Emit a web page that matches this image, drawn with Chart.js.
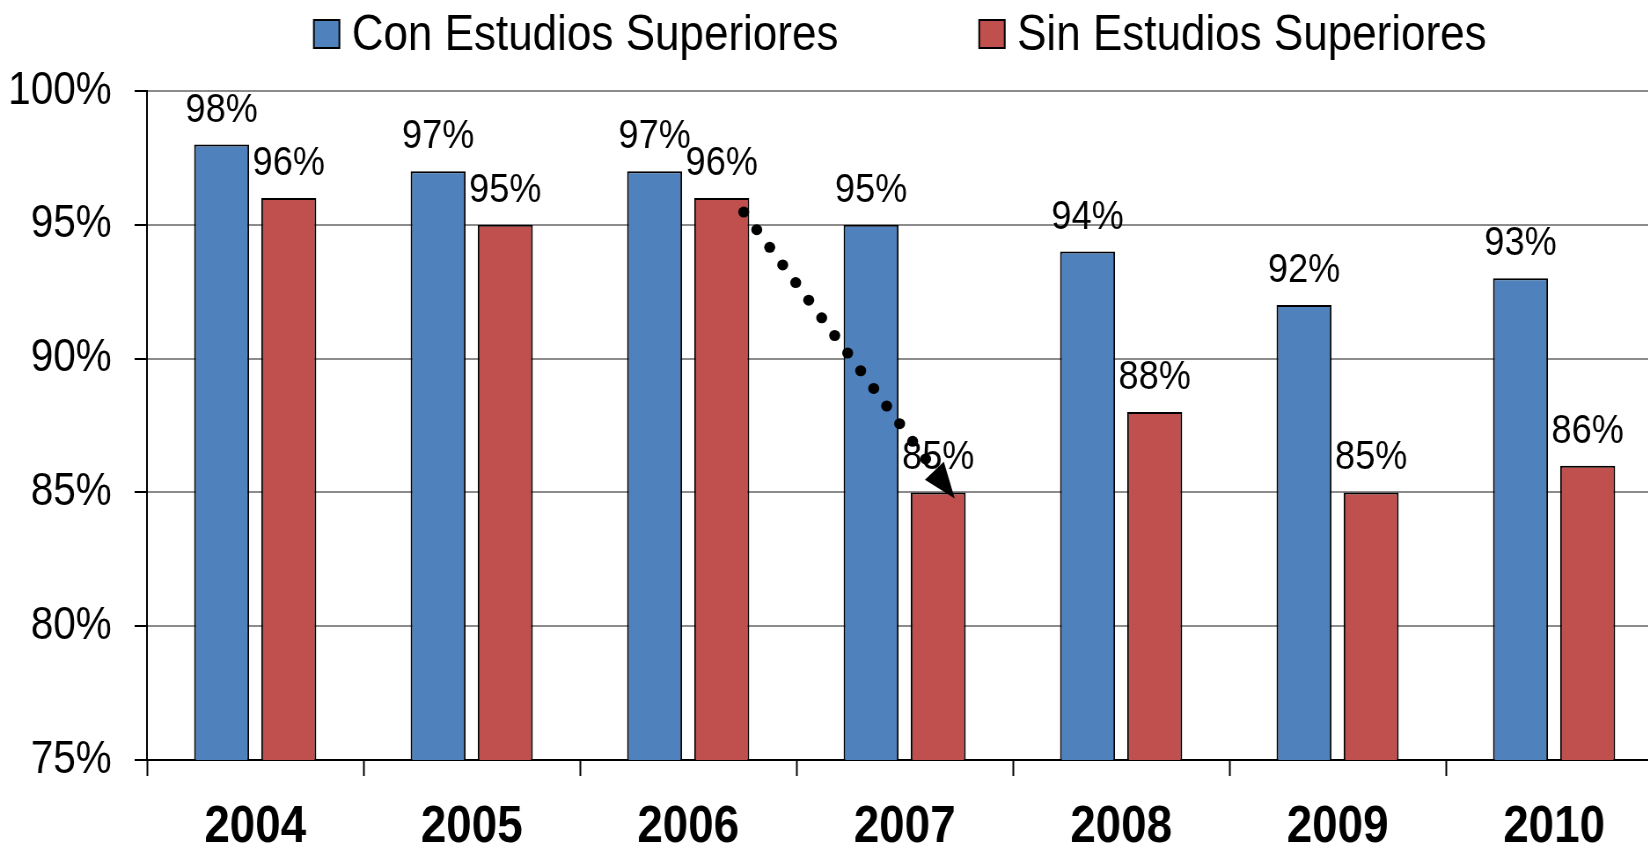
<!DOCTYPE html>
<html>
<head>
<meta charset="utf-8">
<script src="https://cdn.jsdelivr.net/npm/chart.js@4.4.1/dist/chart.umd.min.js"></script>
<style>
  html, body { margin: 0; padding: 0; background: #fff; overflow: hidden; }
  /* the original picture is squeezed horizontally, so we draw wide and squeeze */
  #wrap { width: 1890px; height: 847px; transform: scaleX(0.88); transform-origin: 0 0; }
</style>
</head>
<body>
<div id="wrap"><canvas id="myChart" width="1890" height="847"></canvas></div>
<script>
const years = ["2004", "2005", "2006", "2007", "2008", "2009", "2010"];
const conEstudios = [98, 97, 97, 95, 94, 92, 93];
const sinEstudios = [96, 95, 96, 85, 88, 85, 86];
const seriesNames = ["Con Estudios Superiores", "Sin Estudios Superiores"];
const seriesColors = ["#4F81BD", "#C0504D"];
const yTicks = [75, 80, 85, 90, 95, 100];

const FONT = "'Liberation Sans', Arial, sans-serif";

// value labels above each bar
const valueLabels = {
  id: "valueLabels",
  afterDatasetsDraw(chart) {
    const ctx = chart.ctx;
    ctx.save();
    ctx.font = "41px " + FONT;
    ctx.fillStyle = "#000";
    ctx.textAlign = "center";
    ctx.textBaseline = "alphabetic";
    chart.data.datasets.forEach((ds, i) => {
      chart.getDatasetMeta(i).data.forEach((bar, j) => {
        ctx.fillText(ds.data[j] + "%", bar.x, bar.y - 23);
      });
    });
    ctx.restore();
  }
};

// dotted arrow from 2006 to 2007 (Sin Estudios)
const dropArrow = {
  id: "dropArrow",
  afterDatasetsDraw(chart) {
    const bars = chart.getDatasetMeta(1).data;
    const a = bars[2], b = bars[3];
    const x0 = a.x + a.width * 0.4, y0 = a.y + 14;
    const x1 = b.x + b.width * 0.3, y1 = b.y + 6;
    const dx = x1 - x0, dy = y1 - y0;
    const len = Math.sqrt(dx * dx + dy * dy);
    const ux = dx / len, uy = dy / len;
    const ctx = chart.ctx;
    ctx.save();
    ctx.fillStyle = "#000";
    const headLen = 36;
    for (let d = 0; d <= len - headLen - 4; d += 23) {
      ctx.beginPath();
      ctx.ellipse(x0 + ux * d, y0 + uy * d, 5.5 / 0.88, 5.5, 0, 0, Math.PI * 2);
      ctx.fill();
    }
    const bx = x1 - ux * headLen, by = y1 - uy * headLen;
    const px = -uy, py = ux;
    ctx.beginPath();
    ctx.moveTo(x1, y1);
    ctx.lineTo(bx + px * 14, by + py * 14);
    ctx.lineTo(bx - px * 14, by - py * 14);
    ctx.closePath();
    ctx.fill();
    ctx.restore();
  }
};

// legend at the top
const topLegend = {
  id: "topLegend",
  afterDraw(chart) {
    const ctx = chart.ctx;
    ctx.save();
    ctx.font = "50px " + FONT;
    const box = 29, gapText = 14, gapItem = 160;
    const widths = seriesNames.map(n => ctx.measureText(n).width);
    let total = 0;
    widths.forEach((w, i) => { total += box + gapText + w + (i ? gapItem : 0); });
    let x = chart.width / 2 - total / 2 + 78;
    seriesNames.forEach((name, i) => {
      ctx.fillStyle = seriesColors[i];
      ctx.fillRect(x, 20, box, 28);
      ctx.strokeStyle = "#000";
      ctx.lineWidth = 2;
      ctx.strokeRect(x, 20, box, 28);
      ctx.fillStyle = "#000";
      ctx.textBaseline = "alphabetic";
      ctx.textAlign = "left";
      ctx.fillText(name, x + box + gapText, 50);
      x += box + gapText + widths[i] + gapItem;
    });
    ctx.restore();
  }
};

new Chart(document.getElementById("myChart"), {
  type: "bar",
  data: {
    labels: years,
    datasets: [
      {
        label: seriesNames[0],
        data: conEstudios,
        backgroundColor: seriesColors[0],
        borderColor: "#000",
        borderWidth: 2,
        borderSkipped: false,
        categoryPercentage: 0.62,
        barPercentage: 0.82
      },
      {
        label: seriesNames[1],
        data: sinEstudios,
        backgroundColor: seriesColors[1],
        borderColor: "#000",
        borderWidth: 2,
        borderSkipped: false,
        categoryPercentage: 0.62,
        barPercentage: 0.82
      }
    ]
  },
  options: {
    responsive: false,
    animation: false,
    layout: { padding: { top: 91, right: 1, left: 0, bottom: 0 } },
    plugins: {
      legend: { display: false },
      tooltip: { enabled: false }
    },
    scales: {
      x: {
        offset: true,
        grid: {
          offset: true,
          drawOnChartArea: false,
          tickLength: 16,
          tickColor: "#000",
          tickWidth: 2
        },
        border: { color: "#000", width: 2 },
        ticks: {
          color: "#000",
          padding: 20,
          font: { family: FONT, size: 52, weight: "bold" }
        },
        afterFit(scale) { scale.height = 87; }
      },
      y: {
        min: yTicks[0],
        max: yTicks[yTicks.length - 1],
        afterBuildTicks(scale) { scale.ticks = yTicks.map(v => ({ value: v })); },
        grid: {
          color: "#8c8c8c",
          lineWidth: 2,
          tickLength: 14,
          tickColor: "#000",
          tickWidth: 2
        },
        border: { color: "#000", width: 2 },
        ticks: {
          color: "#000",
          padding: 26,
          font: { family: FONT, size: 46 },
          callback: v => v + "%"
        },
        afterFit(scale) { scale.width = 167; }
      }
    }
  },
  plugins: [valueLabels, dropArrow, topLegend]
});
</script>
</body>
</html>
